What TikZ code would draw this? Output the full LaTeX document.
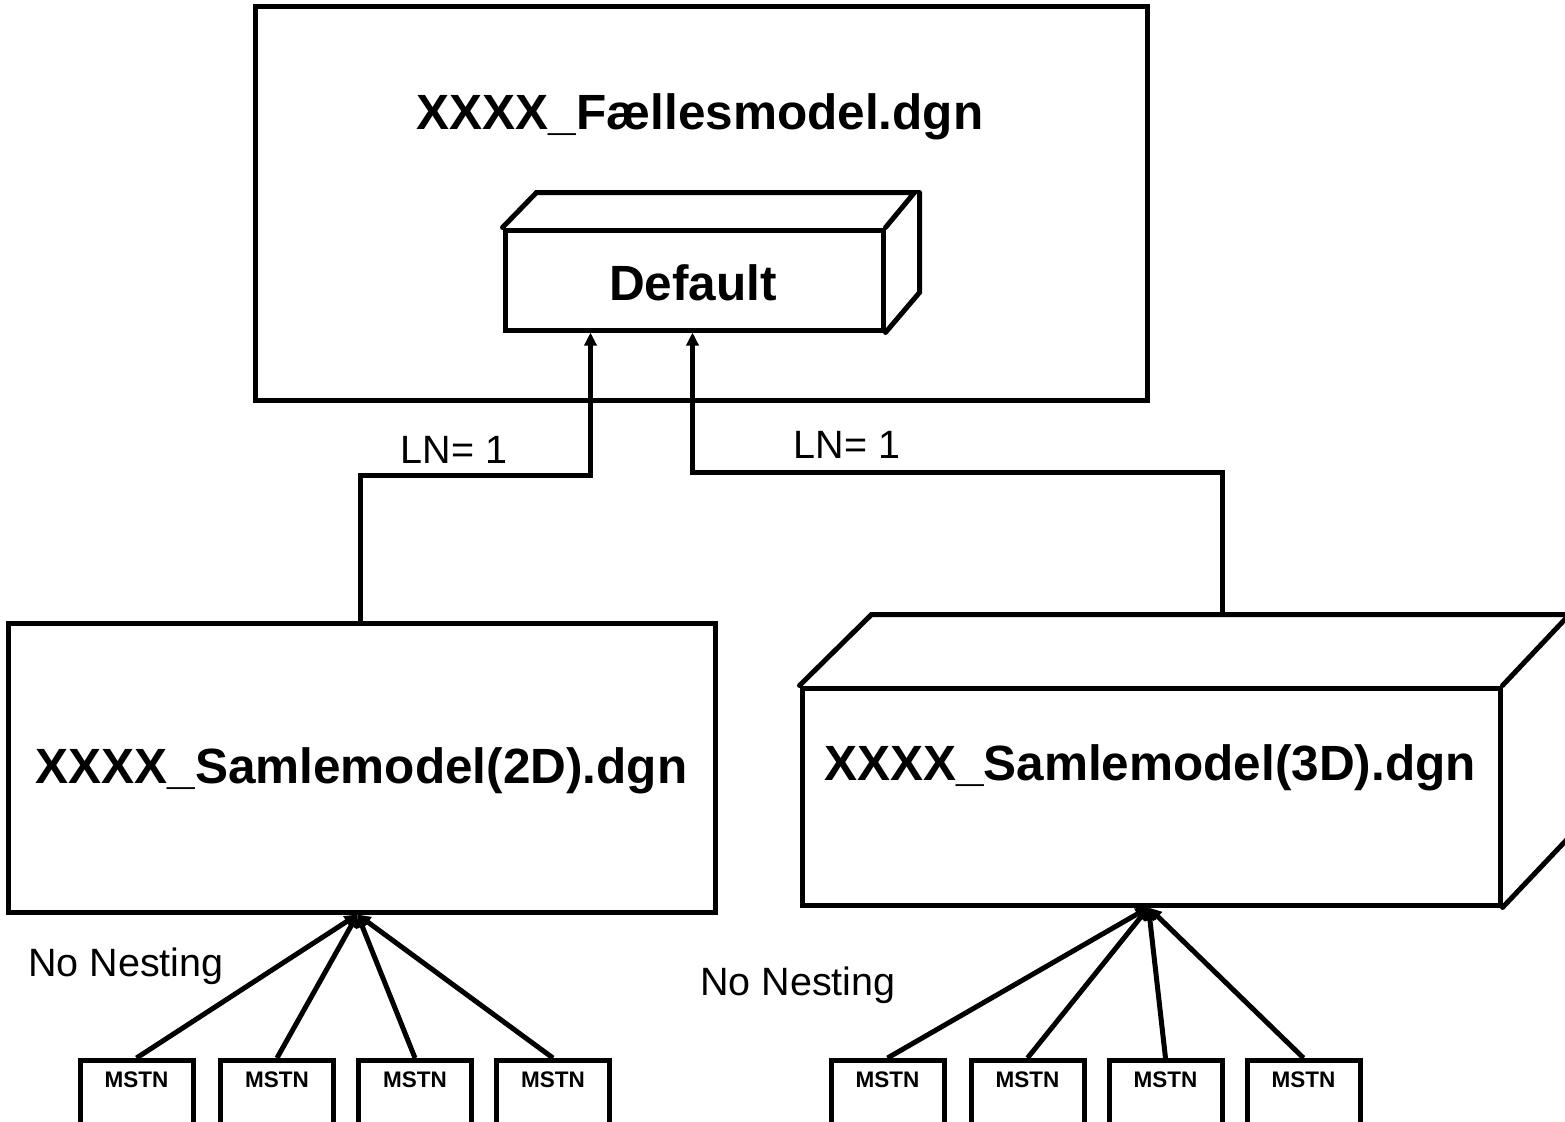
\documentclass[tikz,border=0pt]{standalone}
\usepackage{fontspec}
\setmainfont{Liberation Sans}
\usetikzlibrary{arrows.meta,calc}
\begin{document}
\begin{tikzpicture}[x=1pt,y=-1pt,
  box/.style={draw,line width=5pt,fill=white,inner sep=0pt,line join=miter},
  edge3d/.style={draw,line width=5pt,line join=miter,line cap=round},
  conn/.style={line width=5pt,-{Triangle[length=13pt,width=12pt]}},
  big/.style={font=\fontsize{49.5}{58}\selectfont\bfseries,inner sep=0pt},
  lbl/.style={font=\fontsize{39.5}{44}\selectfont,inner sep=0pt},
  mstntext/.style={font=\fontsize{22.5}{26}\selectfont\bfseries,inner sep=0pt},
  mstn/.style={box,minimum width=113pt,minimum height=100pt,anchor=north}]
\useasboundingbox (0,0) rectangle (1565,1121);
\clip (0,0) rectangle (1565,1121);
\fill[white] (0,0) rectangle (1565,1121);

% top model
\node[box,minimum width=892pt,minimum height=393pt] (top) at (701,203.5) {};
\node[big] (ftitle) at (700,117) {XXXX\_Fællesmodel.dgn};

% Default (3D block)
\node[box,minimum width=378pt,minimum height=100pt] (dflt) at (694,280) {};
\draw[edge3d] (dflt.north west) -- ++(34,-35) -- ++(378,0) -- (dflt.north east);
\draw[edge3d] ($(dflt.north east)+(34,-35)$) -- ++(0,100) -- (dflt.south east);
\node[big] (dtext) at (693,283) {Default};

% 2D model
\node[box,minimum width=707pt,minimum height=289pt] (s2d) at (361.5,767.5) {};
\node[big] (t2d) at (361.5,771) {XXXX\_Samlemodel(2D).dgn};

% 3D model
\node[box,minimum width=698pt,minimum height=217pt] (s3d) at (1151,796.5) {};
\draw[edge3d] (s3d.north west) -- ++(72,-71) -- ++(698,0) -- (s3d.north east);
\draw[edge3d] ($(s3d.north east)+(72,-71)$) -- ++(0,217) -- (s3d.south east);
\node[big] (t3d) at (1150,768) {XXXX\_Samlemodel(3D).dgn};

% connectors to Default
\draw[conn] ($(s2d.north west)+(355,0)$) -- ++(0,-145) -| ($(dflt.south west)+(88,0)$);
\draw[conn] ($(s3d.north west)+(423,-71)$) -- ++(0,-142) -| ($(dflt.south west)+(190,0)$);
\node[lbl] (ln1) at (454,450) {LN= 1};
\node[lbl] (ln2) at (847,445) {LN= 1};

% MSTN boxes left
\foreach \n/\x in {1/136.5,2/277,3/415,4/553}{
  \node[mstn] (l\n) at (\x,1058) {};
  \node[mstntext] (lt\n) at ($(l\n.north)+(0,22)$) {MSTN};
  \draw[conn] (l\n.north) -- ($(s2d.south west)+(352,0)$);
}
% MSTN boxes right
\foreach \n/\x in {1/887.5,2/1027.5,3/1165.5,4/1303.5}{
  \node[mstn] (r\n) at (\x,1058) {};
  \node[mstntext] (rt\n) at ($(r\n.north)+(0,22)$) {MSTN};
  \draw[conn] (r\n.north) -- ($(s3d.south west)+(349,0)$);
}
\node[lbl] (nn1) at (126,966) {No Nesting};
\node[lbl] (nn2) at (798,985) {No Nesting};
\end{tikzpicture}
\end{document}
